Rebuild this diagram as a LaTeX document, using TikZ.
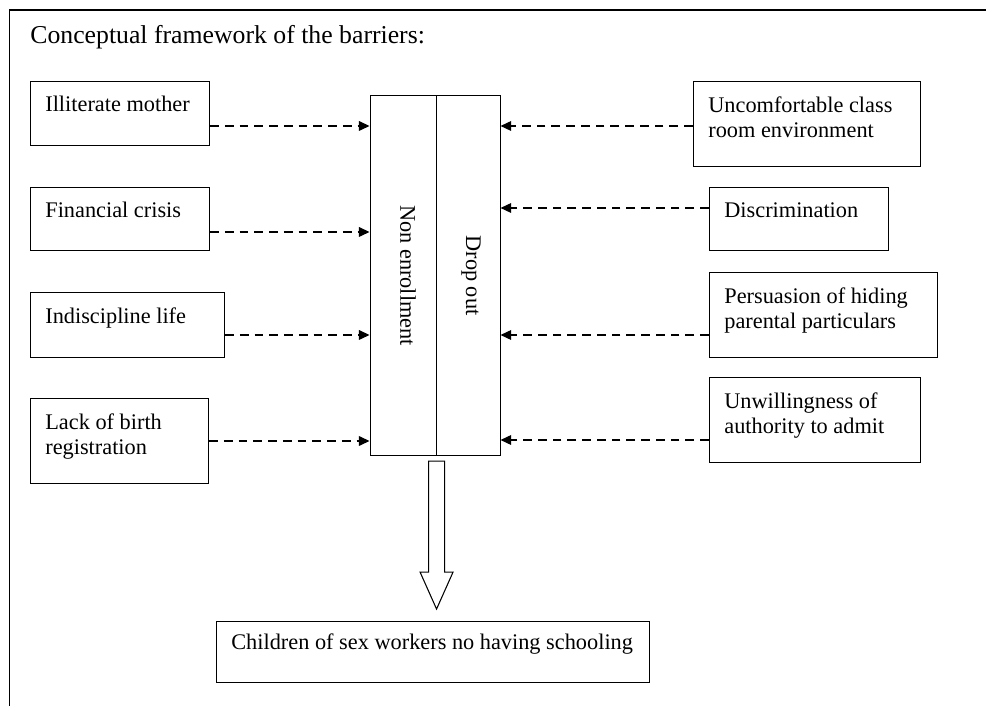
\documentclass[tikz,border=0pt]{standalone}
\usepackage{fontspec}
\setmainfont{Liberation Serif}
\usepackage{graphicx}
\usetikzlibrary{arrows.meta}

\tikzset{
  barrier/.style={draw, line width=0.6pt, anchor=north west, inner sep=0pt},
  boxtext/.style={anchor=north west, align=left, inner sep=0pt, font=\fontsize{12.7}{14.3}\selectfont},
  core/.style={barrier, minimum height=7.2cm, font=\fontsize{12.7}{14.3}\selectfont},
  flow/.style={line width=0.7pt, dash pattern=on 5pt off 3.4pt, -{Triangle[length=6pt,width=5.5pt]}}
}

\begin{document}
\begin{tikzpicture}
                \useasboundingbox (0,0) rectangle (19.72,14.12);
                \draw[line width=1pt] (0.19,0) -- (0.19,13.92) -- (19.72,13.92);

                \node[anchor=base west, inner sep=0pt, font=\fontsize{14.65}{17}\selectfont] (title) at (0.6,13.24) {Conceptual framework of the barriers:};

                % left column
                \node[barrier, minimum width=3.58cm, minimum height=1.28cm] (mother) at (0.6,12.5) {};
                \node[boxtext] (mothertxt) at ([shift={(0.3,-0.3)}]mother.north west) {Illiterate mother};
                \node[barrier, minimum width=3.58cm, minimum height=1.26cm] (finance) at (0.6,10.38) {};
                \node[boxtext] (financetxt) at ([shift={(0.3,-0.3)}]finance.north west) {Financial crisis};
                \node[barrier, minimum width=3.88cm, minimum height=1.3cm] (indisc) at (0.6,8.28) {};
                \node[boxtext] (indisctxt) at ([shift={(0.3,-0.3)}]indisc.north west) {Indiscipline life};
                \node[barrier, minimum width=3.56cm, minimum height=1.7cm] (birth) at (0.6,6.16) {};
                \node[boxtext] (birthtxt) at ([shift={(0.3,-0.3)}]birth.north west) {Lack of birth\\registration};

                % right column
                \node[barrier, minimum width=4.54cm, minimum height=1.7cm] (uncomf) at (13.86,12.5) {};
                \node[boxtext] (uncomftxt) at ([shift={(0.3,-0.3)}]uncomf.north west) {Uncomfortable class\\room environment};
                \node[barrier, minimum width=3.58cm, minimum height=1.26cm] (discrim) at (14.18,10.38) {};
                \node[boxtext] (discrimtxt) at ([shift={(0.3,-0.3)}]discrim.north west) {Discrimination};
                \node[barrier, minimum width=4.56cm, minimum height=1.7cm] (persua) at (14.18,8.68) {};
                \node[boxtext] (persuatxt) at ([shift={(0.3,-0.3)}]persua.north west) {Persuasion of hiding\\parental particulars};
                \node[barrier, minimum width=4.22cm, minimum height=1.7cm] (unwill) at (14.18,6.58) {};
                \node[boxtext] (unwilltxt) at ([shift={(0.3,-0.3)}]unwill.north west) {Unwillingness of\\authority to admit};

                % middle column, text runs downwards
                \node[core, minimum width=1.32cm] (nonenrol) at (7.39,12.22) {\hspace*{0.2cm}\rotatebox{-90}{Non enrollment}};
                \node[core, minimum width=1.28cm] (dropout) at (8.71,12.22) {\hspace*{0.12cm}\rotatebox{-90}{Drop out}};

                \node[barrier, minimum width=8.66cm, minimum height=1.22cm] (outcome) at (4.32,1.7) {};
                \node[boxtext] (outcometxt) at ([shift={(0.3,-0.24)}]outcome.north west) {Children of sex workers no having schooling};

                \draw[flow] (mother.east |- 0,11.6) -- (nonenrol.west |- 0,11.6);
                \draw[flow] (finance.east |- 0,9.48) -- (nonenrol.west |- 0,9.48);
                \draw[flow] (indisc.east |- 0,7.42) -- (nonenrol.west |- 0,7.42);
                \draw[flow] (birth.east |- 0,5.3) -- (nonenrol.west |- 0,5.3);

                \draw[flow] (uncomf.west |- 0,11.6) -- (dropout.east |- 0,11.6);
                \draw[flow] (discrim.west |- 0,9.96) -- (dropout.east |- 0,9.96);
                \draw[flow] (persua.west |- 0,7.42) -- (dropout.east |- 0,7.42);
                \draw[flow] (unwill.west |- 0,5.32) -- (dropout.east |- 0,5.32);

                % hollow arrow down to the outcome
                \coordinate (stem) at ([yshift=-0.1cm]nonenrol.south east);
                \draw[line width=0.6pt] ([xshift=-0.16cm]stem) -- ++(0,-2.22) -- ++(-0.17,0) -- ([yshift=-2.96cm]stem)
                    -- ++(0.33,0.74) -- ++(-0.17,0) -- ([xshift=0.16cm]stem) -- cycle;
            \end{tikzpicture}
\end{document}
